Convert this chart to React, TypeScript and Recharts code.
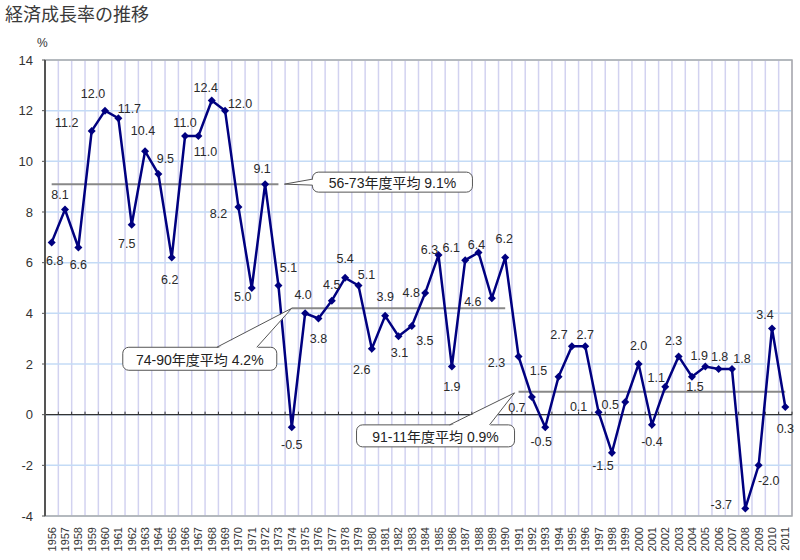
import {
  CartesianGrid,
  LabelList,
  Line,
  LineChart,
  ReferenceArea,
  ReferenceDot,
  ReferenceLine,
  XAxis,
  YAxis,
} from 'recharts';

const FONT = "'Liberation Sans', Arial, 'Noto Sans CJK JP', sans-serif";

const years = [
  1956, 1957, 1958, 1959, 1960, 1961, 1962, 1963, 1964, 1965, 1966, 1967, 1968, 1969,
  1970, 1971, 1972, 1973, 1974, 1975, 1976, 1977, 1978, 1979, 1980, 1981, 1982, 1983,
  1984, 1985, 1986, 1987, 1988, 1989, 1990, 1991, 1992, 1993, 1994, 1995, 1996, 1997,
  1998, 1999, 2000, 2001, 2002, 2003, 2004, 2005, 2006, 2007, 2008, 2009, 2010, 2011,
];

const growth = [
  6.8, 8.1, 6.6, 11.2, 12.0, 11.7, 7.5, 10.4, 9.5, 6.2, 11.0, 11.0, 12.4, 12.0,
  8.2, 5.0, 9.1, 5.1, -0.5, 4.0, 3.8, 4.5, 5.4, 5.1, 2.6, 3.9, 3.1, 3.5,
  4.8, 6.3, 1.9, 6.1, 6.4, 4.6, 6.2, 2.3, 0.7, -0.5, 1.5, 2.7, 2.7, 0.1,
  -1.5, 0.5, 2.0, -0.4, 1.1, 2.3, 1.5, 1.9, 1.8, 1.8, -3.7, -2.0, 3.4, 0.3,
];

const yTicks = [-4, -2, 0, 2, 4, 6, 8, 10, 12, 14];

const avgFrom = [1956, 1974, 1991];
const avgTo = [1973, 1990, 2011];
const avgValue = [9.1, 4.2, 0.9];
const avgText = ['56-73年度平均 9.1%', '74-90年度平均 4.2%', '91-11年度平均 0.9%'];

// where each value label sits, relative to its marker (dx, dy)
const labelOffsets: [number, number][] = [
  [3, 19], [-5, -14], [0, 18], [-25, -8], [-12, -17], [11, -9], [-5, 19], [-2, -20],
  [7, -15], [-2, 22], [0, -13], [7, 16], [-6, -13], [15, -7], [-20, 7], [-9, 9],
  [-3, -15], [10, -17], [0, 18], [-2, -18], [0, 21], [0, -16], [0, -19], [8, -10],
  [-10, 21], [0, -19], [1, 17], [13, 15], [-14, 0], [-9, -5], [0, 20], [-14, -12],
  [-2, -8], [-19, 4], [-1, -19], [-22, 7], [-15, 11], [-4, 15], [-20, -6], [-13, -11],
  [0, -11], [-20, -5], [-9, 13], [-15, 3], [0, -18], [0, 17], [-9, -9], [-5, -15],
  [3, 10], [-6, -11], [1, -12], [10, -10], [-24, -3], [10, 16], [-7, -14], [0, 22],
];

// balloon geometry relative to the anchor point of each average line
const callouts = [
  { anchorX: 1973, tip: [6, 0], box: [34, -12, 160, 20], base: [[34, -5], [34, 1]] },
  { anchorX: 1974, tip: [0, 0], box: [-169, 39, 154, 23], base: [[-75, 39], [-35, 39]] },
  { anchorX: 1991, tip: [-4, 1], box: [-162, 33, 158, 22], base: [[-69, 33], [-29, 33]] },
];

const data = years.map((year, i) => ({ year, growth: growth[i] }));
const xMin = years[0] - 0.5;
const xMax = years[years.length - 1] + 0.5;

const Diamond = (props: any) => {
  const { cx, cy } = props;
  if (cx == null || cy == null) return null;
  const r = 4;
  return (
    <polygon
      points={`${cx},${cy - r} ${cx + r},${cy} ${cx},${cy + r} ${cx - r},${cy}`}
      fill='#000080'
    />
  );
};

const ValueLabel = (props: any) => {
  const { x, y, value, index } = props;
  const [dx, dy] = labelOffsets[index] || [0, -12];
  return (
    <text
      x={x + dx}
      y={y + dy}
      textAnchor='middle'
      dominantBaseline='central'
      fontSize={12.5}
      fontFamily={FONT}
      fill='#2a2a2a'
    >
      {Number(value).toFixed(1)}
    </text>
  );
};

const YearTick = (props: any) => {
  const { x, payload } = props;
  return (
    <text
      transform={`translate(${x + 4}, 527) rotate(-90)`}
      textAnchor='end'
      fontSize={11}
      fontFamily={FONT}
      fill='#333'
    >
      {payload.value}
    </text>
  );
};

const ZeroAxis = (props: any) => {
  const { x1, x2, y1 } = props;
  if (x1 == null) return null;
  const step = (x2 - x1) / years.length;
  return (
    <g>
      <line x1={x1} x2={x2} y1={y1} y2={y1} stroke='#333' strokeWidth={1.2} />
      {[...years, 0].map((_, i) => (
        <line
          key={i}
          x1={x1 + i * step}
          x2={x1 + i * step}
          y1={y1}
          y2={y1 - 3}
          stroke='#333'
          strokeWidth={1}
        />
      ))}
    </g>
  );
};

const makeBalloon = (k: number) => (props: any) => {
  const { cx, cy } = props;
  if (cx == null || cy == null) return null;
  const c = callouts[k];
  const [bx, by, bw, bh] = c.box;
  const tx = cx + c.tip[0];
  const ty = cy + c.tip[1];
  const b1 = [cx + c.base[0][0], cy + c.base[0][1]];
  const b2 = [cx + c.base[1][0], cy + c.base[1][1]];
  // nudge base points into the box so the fill hides the border there
  const inward = c.base[0][0] === c.base[1][0] ? [1.5, 0] : [0, 1.5];
  const p1 = `${b1[0] + inward[0]},${b1[1] + inward[1]}`;
  const p2 = `${b2[0] + inward[0]},${b2[1] + inward[1]}`;
  return (
    <g>
      <rect
        x={cx + bx}
        y={cy + by}
        width={bw}
        height={bh}
        rx={6}
        fill='#fff'
        stroke='#555'
        strokeWidth={1}
      />
      <polygon points={`${p1} ${tx},${ty} ${p2}`} fill='#fff' stroke='none' />
      <polyline
        points={`${b1[0]},${b1[1]} ${tx},${ty} ${b2[0]},${b2[1]}`}
        fill='none'
        stroke='#555'
        strokeWidth={1}
      />
      <text
        x={cx + bx + bw / 2}
        y={cy + by + bh / 2 + 1}
        textAnchor='middle'
        dominantBaseline='central'
        fontSize={14}
        fontFamily={FONT}
        fill='#222'
      >
        {avgText[k]}
      </text>
    </g>
  );
};

const bandLines = (args: any) => {
  const { offset } = args;
  const step = offset.width / years.length;
  return [...years, 0].map((_, i) => offset.left + i * step);
};

export default function App() {
  return (
    <div style={{ position: 'absolute', left: 0, top: 0, width: 800, height: 560, background: '#fff' }}>
      <div
        style={{
          position: 'absolute',
          left: 5,
          top: 1,
          fontSize: 18,
          fontFamily: "'Noto Sans CJK JP', sans-serif",
          color: '#3a3a3a',
          lineHeight: '24px',
        }}
      >
        経済成長率の推移
      </div>
      <div
        style={{
          position: 'absolute',
          left: 37,
          top: 36,
          fontSize: 12,
          fontFamily: FONT,
          color: '#333',
        }}
      >
        %
      </div>
      <LineChart
        width={800}
        height={560}
        data={data}
        margin={{ top: 60, right: 8, bottom: 0, left: 0 }}
      >
        <CartesianGrid
          horizontal={false}
          verticalCoordinatesGenerator={bandLines}
          stroke='#d2d2f0'
          strokeWidth={1.5}
        />
        <CartesianGrid vertical={false} stroke='#c4dbf6' strokeWidth={1.5} />
        <XAxis
          dataKey='year'
          type='number'
          domain={[xMin, xMax]}
          ticks={years}
          interval={0}
          height={44}
          axisLine={false}
          tickLine={false}
          tick={<YearTick />}
        />
        <YAxis
          domain={[-4, 14]}
          ticks={yTicks}
          width={45}
          tickSize={3}
          tickMargin={9}
          axisLine={{ stroke: '#555', strokeWidth: 2 }}
          tickLine={{ stroke: '#555' }}
          tick={{ fontSize: 13, fontFamily: FONT, fill: '#333' }}
        />
        <ReferenceArea
          x1={xMin}
          x2={xMax}
          y1={-4}
          y2={14}
          fill='none'
          stroke='#aaa'
          strokeWidth={1.5}
        />
        <ReferenceLine y={0} shape={<ZeroAxis />} />
        {avgValue.map((v, i) => (
          <ReferenceLine
            key={i}
            segment={[
              { x: avgFrom[i], y: v },
              { x: avgTo[i], y: v },
            ]}
            stroke='#888'
            strokeWidth={2}
          />
        ))}
        <Line
          dataKey='growth'
          stroke='#000080'
          strokeWidth={2.5}
          dot={<Diamond />}
          activeDot={false}
          isAnimationActive={false}
        >
          <LabelList dataKey='growth' content={<ValueLabel />} />
        </Line>
        {callouts.map((c, i) => (
          <ReferenceDot
            key={i}
            x={c.anchorX}
            y={avgValue[i]}
            r={0}
            ifOverflow='visible'
            shape={makeBalloon(i)}
          />
        ))}
      </LineChart>
    </div>
  );
}
